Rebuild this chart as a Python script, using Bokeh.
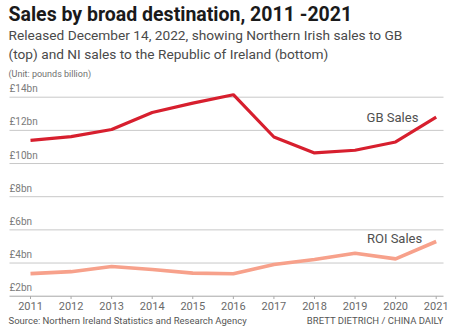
from bokeh.plotting import figure
from bokeh.models import Label, Range1d, ColumnDataSource
from bokeh.core.properties import value
from bokeh.embed import file_html
from bokeh.resources import INLINE

years = [2011, 2012, 2013, 2014, 2015, 2016, 2017, 2018, 2019, 2020, 2021]
gb_sales = [11.4, 11.62, 12.05, 13.08, 13.64, 14.15, 11.6, 10.64, 10.8, 11.3, 12.8]
roi_sales = [3.36, 3.48, 3.79, 3.61, 3.39, 3.35, 3.91, 4.21, 4.59, 4.25, 5.3]
y_ticks = [2, 4, 6, 8, 10, 12, 14]
y_tick_labels = ["£2bn", "£4bn", "£6bn", "£8bn", "£10bn", "£12bn", "£14bn"]
year_labels = [str(y) for y in years]

title = "Sales by broad destination, 2011 -2021"
subtitle1 = "Released December 14, 2022, showing Northern Irish sales to GB"
subtitle2 = "(top) and NI sales to the Republic of Ireland (bottom)"
unit = "(Unit: pounds billion)"
source = "Source: Northern Ireland Statistics and Research Agency"
credit = "BRETT DIETRICH / CHINA DAILY"

W, H = 450, 330
# the whole canvas is the frame, so that every text can be drawn
X_START, X_END = 2010.2605, 2021.3525
Y_START, Y_END = -0.068, 19.831
GRID_X0, GRID_X1 = 2010.482, 2021.18

FONT = "Roboto"

p = figure(width=W, height=H, output_backend="svg", toolbar_location=None,
           x_range=Range1d(X_START, X_END), y_range=Range1d(Y_START, Y_END),
           x_axis_location=None, y_axis_location=None,
           min_border=0, min_border_left=0, min_border_right=0, min_border_top=0, min_border_bottom=0)
p.outline_line_color = None
p.grid.visible = False

# horizontal grid lines (the lowest acts as the x axis line)
n = len(y_ticks)
p.segment(x0=[GRID_X0] * n, x1=[GRID_X1] * n, y0=y_ticks, y1=y_ticks,
          line_color=["#a8a8a8"] + ["#c8c8c8"] * (n - 1), line_width=1)
# small tick marks under the axis at each year
p.segment(x0=years, x1=years, y0=[y_ticks[0]] * len(years), y1=[y_ticks[0] - 0.17] * len(years),
          line_color="#a8a8a8", line_width=1)

# y tick labels, above each grid line
src_y = ColumnDataSource(dict(x=[GRID_X0] * n, y=y_ticks, t=y_tick_labels))
p.text("x", "y", text="t", source=src_y, text_font=value(FONT), text_font_size="10px",
       text_color="#7a7a7a", text_baseline="bottom", text_align="left", y_offset=-3)

# x tick labels
src_x = ColumnDataSource(dict(x=years, y=[y_ticks[0]] * len(years), t=year_labels))
p.text("x", "y", text="t", source=src_x, text_font=value(FONT), text_font_size="11px",
       text_color="#6a6a6a", text_baseline="middle", text_align="center", y_offset=10)

p.line(years, gb_sales, line_color="#d71f2e", line_width=3.2)
p.line(years, roi_sales, line_color="#f7a18b", line_width=3.6)

p.add_layout(Label(x=years[-1] - 0.44, y=gb_sales[-1] - 0.04, text="GB Sales", text_align="right",
                   text_baseline="middle", text_font=FONT, text_font_size="13px", text_color="#505050"))
p.add_layout(Label(x=years[-1] - 0.345, y=roi_sales[-1] + 0.16, text="ROI Sales", text_align="right",
                   text_baseline="middle", text_font=FONT, text_font_size="13px", text_color="#505050"))

def lab(txt, x, y, size, color, style="normal", align="left"):
    p.add_layout(Label(x=x, y=y, x_units="canvas", y_units="canvas", text=txt, text_font=FONT,
                       text_font_size=size, text_color=color, text_font_style=style,
                       text_align=align, text_baseline="middle"))

lab(title, 8, 14, "19.5px", "#1a1a1a", style="bold")
lab(subtitle1, 8, 34, "13.7px", "#4a4a4a")
lab(subtitle2, 8, 53, "13.7px", "#4a4a4a")
lab(unit, 8, 73, "9px", "#707070")
lab(source, 8, 320, "9.5px", "#555555")
lab(credit, 443, 320, "9.5px", "#555555", align="right")

open("out.html", "w").write(file_html(p, INLINE))
